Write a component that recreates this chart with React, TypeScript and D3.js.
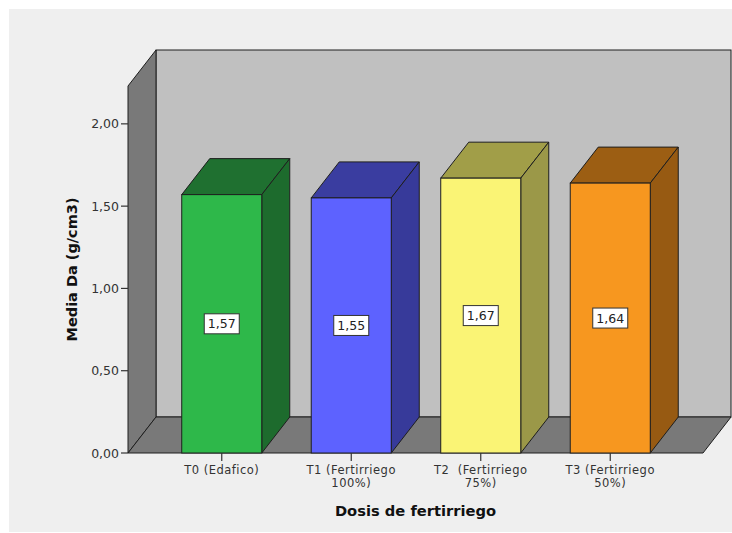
import React from "react";
import * as d3 from "d3";

const categories = ["T0 (Edafico)", "T1 (Fertirriego 100%)", "T2  (Fertirriego 75%)", "T3 (Fertirriego 50%)"];
const labelLines = [["T0 (Edafico)"], ["T1 (Fertirriego", "100%)"], ["T2  (Fertirriego", "75%)"], ["T3 (Fertirriego", "50%)"]];
const values = [1.57, 1.55, 1.67, 1.64];
const yTicks = [0, 0.5, 1, 1.5, 2];
const frontColors = ["#2eb84a", "#5d62ff", "#faf475", "#f7971f"];
const topColors = ["#1f7030", "#3a3da0", "#a19e48", "#9c5e13"];
const sideColors = ["#1d6b2d", "#373a9a", "#9b9848", "#975a12"];

const W = 732;
const H = 533;
const DX = 28;
const DY = -36;
const X0 = 128;
const X1 = 703;
const Y0 = 453;
const YTOP = 86;

const fmt = (v: number) => v.toFixed(2).replace(".", ",");
const pts = (p: [number, number][]) => p.map((q) => q.join(",")).join(" ");

export default function App() {
  const y = d3.scaleLinear().domain([0, 2.23]).range([Y0, YTOP]);
  const x = d3
    .scaleBand<string>()
    .domain(categories)
    .range([157, 675])
    .paddingInner(0.382)
    .paddingOuter(0.191);
  const bw = x.bandwidth();
  const stroke = "#1e1e1e";
  const font = "'DejaVu Sans', Verdana, sans-serif";

  return (
    <svg width={W} height={H} style={{ position: "absolute", left: 0, top: 0 }}>
      <rect x={0} y={0} width={W} height={H} fill="#ffffff" />
      <rect x={9} y={9} width={W - 9} height={H - 10} fill="#efefef" />
      {/* back wall */}
      <rect x={X0 + DX} y={YTOP + DY} width={X1 - X0} height={Y0 - YTOP} fill="#c0c0c0" stroke={stroke} strokeWidth={1} />
      {/* left wall */}
      <polygon
        points={pts([[X0, Y0], [X0, YTOP], [X0 + DX, YTOP + DY], [X0 + DX, Y0 + DY]])}
        fill="#797979"
        stroke={stroke}
        strokeWidth={1}
      />
      {/* floor */}
      <polygon
        points={pts([[X0, Y0], [X1, Y0], [X1 + DX, Y0 + DY], [X0 + DX, Y0 + DY]])}
        fill="#797979"
        stroke={stroke}
        strokeWidth={1}
      />
      {/* bars */}
      {categories.map((c, i) => {
        const bx = x(c)!;
        const top = y(values[i]);
        return (
          <g key={c}>
            <polygon
              points={pts([[bx, top], [bx + bw, top], [bx + bw + DX, top + DY], [bx + DX, top + DY]])}
              fill={topColors[i]}
              stroke={stroke}
              strokeWidth={1}
            />
            <polygon
              points={pts([[bx + bw, Y0], [bx + bw, top], [bx + bw + DX, top + DY], [bx + bw + DX, Y0 + DY]])}
              fill={sideColors[i]}
              stroke={stroke}
              strokeWidth={1}
            />
            <rect x={bx} y={top} width={bw} height={Y0 - top} fill={frontColors[i]} stroke={stroke} strokeWidth={1} />
            <rect
              x={bx + bw / 2 - 17.5}
              y={(top + Y0) / 2 - 10}
              width={35}
              height={20}
              fill="#ffffff"
              stroke="#333"
              strokeWidth={1}
            />
            <text
              x={bx + bw / 2}
              y={(top + Y0) / 2 + 4.5}
              textAnchor="middle"
              fontFamily={font}
              fontSize={12.5}
              fill="#222"
            >
              {fmt(values[i])}
            </text>
          </g>
        );
      })}
      {/* y axis */}
      {yTicks.map((t) => (
        <g key={t}>
          <line x1={121} x2={X0} y1={y(t)} y2={y(t)} stroke="#333" strokeWidth={1.2} />
          <text x={119} y={y(t) + 4.5} textAnchor="end" fontFamily={font} fontSize={12.5} fill="#333">
            {fmt(t)}
          </text>
        </g>
      ))}
      {/* x axis */}
      {categories.map((c, i) => {
        const cx = x(c)! + bw / 2;
        return (
          <g key={c}>
            <line x1={cx} x2={cx} y1={Y0} y2={Y0 + 8} stroke="#333" strokeWidth={1.2} />
            {labelLines[i].map((ln, j) => (
              <text
                key={j}
                x={cx}
                y={473.5 + j * 13.5}
                textAnchor="middle"
                fontFamily={font}
                fontSize={11.5}
                letterSpacing={0.5}
                fill="#333"
                style={{ whiteSpace: "pre" }}
              >
                {ln}
              </text>
            ))}
          </g>
        );
      })}
      <text
        x={(X0 + X1) / 2}
        y={516}
        textAnchor="middle"
        fontFamily={font}
        fontSize={14.7}
        fontWeight="bold"
        fill="#111"
      >
        Dosis de fertirriego
      </text>
      <text
        transform={`translate(77, ${(Y0 + YTOP) / 2}) rotate(-90)`}
        textAnchor="middle"
        fontFamily={font}
        fontSize={14.5}
        fontWeight="bold"
        fill="#111"
      >
        Media Da (g/cm3)
      </text>
    </svg>
  );
}
